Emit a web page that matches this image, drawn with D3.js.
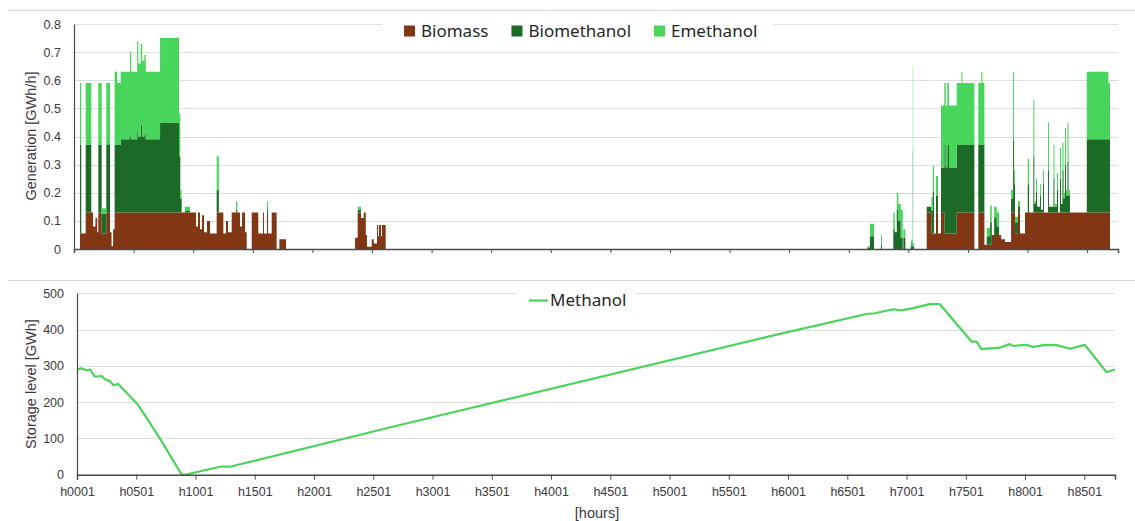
<!DOCTYPE html>
<html>
<head>
<meta charset="utf-8">
<script src="https://cdn.jsdelivr.net/npm/d3@7"></script>
<style>
  body { margin: 0; background: #fff; }
  svg { display: block; font-family: "Liberation Sans", Arial, sans-serif; }
</style>
</head>
<body>
<svg id="chart" width="1135" height="521"></svg>
<script>
// Hourly generation, piecewise constant: each value holds from its start hour to the next start [GWh/h]
const segStart = [
  0, 50, 61, 98, 145, 160, 180, 195, 204, 232, 271, 302, 315, 328, 341, 363, 392, 470, 480, 530,
  540, 560, 572, 590, 602, 722, 881, 892, 903, 931, 973, 1024, 1040, 1057, 1074, 1091, 1116, 1141, 1197, 1215,
  1253, 1275, 1292, 1323, 1359, 1370, 1393, 1410, 1435, 1449, 1491, 1546, 1586, 1594, 1619, 1628, 1659, 1700, 1723, 1779,
  2358, 2380, 2408, 2431, 2448, 2458, 2498, 2515, 2542, 2551, 2559, 2576, 2584, 2615,
  6656, 6678, 6712, 6771, 6779, 6874, 6886, 6903, 6916, 6936, 6953, 6958, 6975, 7020, 7037, 7040, 7048,
  7154, 7193, 7205, 7215, 7232, 7249, 7274, 7302, 7314, 7327, 7341, 7406, 7445, 7453, 7554, 7587, 7612, 7621, 7638,
  7658, 7686, 7700, 7720, 7742, 7761, 7778, 7811, 7862, 7879, 7887, 7895, 7920, 7937, 7979, 8002, 8013, 8049, 8057, 8071,
  8080, 8105, 8113, 8130, 8138, 8172, 8180, 8218, 8226, 8247, 8256, 8272, 8281, 8293, 8302, 8314, 8323, 8335, 8344, 8356,
  8497, 8678, 8692
];
const biomass = [
  0, .055, .055, .13, .13, .08, .11, .06, .13, .055, .13, .06, .01, .07, .13, .13, .13, .13, .13, .13,
  .13, .13, .13, .13, .13, .13, .13, .13, .13, .13, .13, .08, .13, .07, .12, .06, .1, .055, .13, .13,
  .055, .1, .06, .13, .13, .13, .08, .13, .06, 0, .13, .055, .13, .055, .13, .055, .13, 0, .035, 0,
  .04, .13, .11, .13, .05, .008, .035, .02, .085, .045, .085, .045, .085, 0,
  0, 0, 0, 0, 0, 0, 0, 0, 0, 0, 0, 0, 0, 0, 0, 0, 0,
  .13, .055, .055, .055, .13, .055, .13, .055, .055, .055, .055, .13, .13, .13, 0, .13, .13, .13, .015,
  .015, .015, .05, .05, .05, .05, .035, .025, .13, .13, .13, .055, .13, .055, .13, .13, .13, .13, .13, .13,
  .13, .13, .13, .13, .13, .13, .13, .13, .13, .13, .13, .13, .13, .13, .13, .13, .13, .13, .13, .13,
  .13, .13, 0
];
const biomethanol = [
  0, .315, 0, .24, 0, 0, 0, 0, .24, .07, .24, 0, 0, 0, .24, .24, .26, .27, .26, .29,
  .27, .31, .27, .28, .26, .32, .2, .05, 0, .005, 0, 0, 0, 0, 0, 0, 0, 0, .08, 0,
  0, 0, 0, 0, .01, 0, 0, 0, 0, 0, 0, 0, 0, 0, .01, 0, 0, 0, 0, 0,
  0, .01, 0, 0, 0, 0, 0, 0, 0, 0, 0, 0, 0, 0,
  .005, .045, 0, .015, 0, .07, .06, .14, .1, .04, 0, .04, 0, .01, .35, .01, 0,
  .02, .08, .15, 0, .06, 0, .16, .315, .235, .315, .235, .24, .24, .24, 0, .24, .24, .24, 0,
  .03, .08, 0, .06, .03, 0, 0, 0, .05, .26, .1, .04, .02, 0, 0, .1, 0, .2, .03, .07,
  .02, .06, .01, .1, 0, .15, .02, .12, .02, .08, 0, .12, .03, .15, .05, .17, .06, .18, .06, 0,
  .26, .26, 0
];
const emethanol = [
  0, .22, 0, .22, 0, 0, 0, 0, .22, .02, .22, 0, 0, 0, .26, .22, .24, .3, .24, .32,
  .26, .29, .27, .28, .24, .3, .15, .03, 0, .015, 0, 0, 0, 0, 0, 0, 0, 0, .12, 0,
  0, 0, 0, 0, .03, 0, 0, 0, 0, 0, 0, 0, 0, 0, .03, 0, 0, 0, 0, 0,
  0, .01, 0, 0, 0, 0, 0, 0, 0, 0, 0, 0, 0, 0,
  .005, .045, 0, .035, 0, .06, 0, .06, .06, .1, 0, .03, 0, .02, .3, .01, 0,
  0, .05, .09, 0, .07, 0, .22, .22, .22, .22, .22, .22, .26, .22, 0, .22, .26, .22, 0,
  .03, .06, 0, .04, .05, 0, 0, 0, .03, .24, .05, .02, .02, 0, 0, .09, 0, .2, .01, .05,
  0, .04, 0, .05, 0, .17, 0, .12, .01, .06, 0, .11, 0, .1, .02, .13, .02, .14, .02, 0,
  .24, .2, 0
];
const lastHour = 8760;

const seriesNames = ["Biomass", "Biomethanol", "Emethanol"];
const seriesColors = ["#813713", "#1b6b27", "#47d55b"];

// Methanol storage level [GWh]
const storageHour = [
  1, 37, 65, 87, 110, 152, 208, 236, 278, 307, 349, 518, 700, 883, 911, 1207, 1291, 2725, 5932,
  6663, 6733, 6888, 6959, 7057, 7197, 7282, 7549, 7591, 7633, 7788, 7873, 7901, 8014, 8070,
  8154, 8267, 8379, 8505, 8688, 8760
];
const storageLevel = [
  290, 293, 290, 288, 290, 270, 272, 263, 258, 247, 250, 192, 100, 1, 0, 22, 22, 137, 388,
  443, 445, 456, 453, 459, 470, 470, 367, 367, 346, 350, 360, 355, 358, 352,
  357, 357, 347, 358, 283, 290
];
const storageName = "Methanol";
const storageColor = "#4cd35d";

const xTickLabels = ["h0001", "h0501", "h1001", "h1501", "h2001", "h2501", "h3001", "h3501", "h4001",
  "h4501", "h5001", "h5501", "h6001", "h6501", "h7001", "h7501", "h8001", "h8501"];
const genTicks = [0, 0.1, 0.2, 0.3, 0.4, 0.5, 0.6, 0.7, 0.8];
const storageTicks = [0, 100, 200, 300, 400, 500];

const svg = d3.select("#chart");
const gridColor = "#dedede";
const axisColor = "#4a4a4a";
const textColor = "#3a3a3a";
const legendFont = "'Noto Sans', 'Open Sans', sans-serif";
const xTickHours = xTickLabels.map(s => +s.slice(1));

// panel borders
svg.append("line").attr("x1", 8).attr("x2", 1135).attr("y1", 10.5).attr("y2", 10.5)
  .attr("stroke", "#d4d4d4");
svg.append("line").attr("x1", 8).attr("x2", 1135).attr("y1", 280.5).attr("y2", 280.5)
  .attr("stroke", "#d4d4d4");

/* ---------- Generation panel ---------- */
const xTop = d3.scaleLinear().domain([0, lastHour - 1]).range([74, 1118]);
const yTop = d3.scaleLinear().domain([0, 0.8]).range([249, 24]);

const genPanel = svg.append("g");
genPanel.append("g").selectAll("line").data(genTicks.slice(1)).join("line")
  .attr("x1", xTop.range()[0]).attr("x2", xTop.range()[1])
  .attr("y1", d => Math.round(yTop(d)) + 0.5).attr("y2", d => Math.round(yTop(d)) + 0.5)
  .attr("stroke", gridColor).attr("stroke-width", 1.2);

const rows = segStart.map((h, i) => ({
  hour: h, Biomass: biomass[i], Biomethanol: biomethanol[i], Emethanol: emethanol[i]
}));
rows.push({ hour: lastHour - 1, Biomass: 0, Biomethanol: 0, Emethanol: 0 });
const stacked = d3.stack().keys(seriesNames)(rows);
const area = d3.area()
  .curve(d3.curveStepAfter)
  .x(d => xTop(d.data.hour))
  .y0(d => yTop(d[0]))
  .y1(d => yTop(d[1]));
genPanel.append("g").selectAll("path").data(stacked).join("path")
  .attr("d", area)
  .attr("fill", (d, i) => seriesColors[i]);

const yAxisTop = d3.axisLeft(yTop).tickValues(genTicks).tickSize(0).tickPadding(13)
  .tickFormat(d => d === 0 ? "0" : d3.format(".1f")(d));
const gyTop = genPanel.append("g").attr("transform", "translate(74,0)").call(yAxisTop);
gyTop.select(".domain").attr("stroke", axisColor).attr("stroke-width", 1.2);
gyTop.selectAll("text").attr("fill", textColor).style("font-size", "12.5px")
  .style("font-family", "'Liberation Sans', Arial, sans-serif");

const xAxisTop = d3.axisBottom(xTop).tickValues(xTickHours.map(h => h - 1)).tickSize(4).tickFormat("");
const gxTop = genPanel.append("g").attr("transform", "translate(0,249)").call(xAxisTop);
gxTop.select(".domain").attr("stroke", axisColor).attr("stroke-width", 1.5);
gxTop.selectAll(".tick line").attr("stroke", axisColor);

genPanel.append("text")
  .attr("transform", "translate(36,136) rotate(-90)")
  .attr("text-anchor", "middle")
  .attr("fill", textColor)
  .style("font-size", "14.5px")
  .text("Generation [GWh/h]");

// legend
const legTop = genPanel.append("g");
const legBg = legTop.append("rect").attr("fill", "#fff");
let lx = 404;
let legEnd = lx;
seriesNames.forEach((name, i) => {
  const g = legTop.append("g");
  g.append("rect").attr("x", lx).attr("y", 25.5).attr("width", 11).attr("height", 11)
    .attr("fill", seriesColors[i]);
  const t = g.append("text").attr("x", lx + 17).attr("y", 31).attr("dy", "0.35em")
    .attr("fill", "#262626").style("font-family", legendFont).style("font-size", "17px").text(name);
  const w = t.node().getComputedTextLength();
  legEnd = lx + 17 + w;
  lx = legEnd + 23;
});
legBg.attr("x", 382).attr("y", 14).attr("width", legEnd + 16 - 382).attr("height", 32);

/* ---------- Storage panel ---------- */
const xBot = d3.scaleLinear().domain([1, lastHour]).range([77, 1115]);
const yBot = d3.scaleLinear().domain([0, 500]).range([474.7, 293.3]);

const storePanel = svg.append("g");
storePanel.append("g").selectAll("line").data(storageTicks.slice(1)).join("line")
  .attr("x1", xBot.range()[0]).attr("x2", xBot.range()[1])
  .attr("y1", d => Math.round(yBot(d)) + 0.5).attr("y2", d => Math.round(yBot(d)) + 0.5)
  .attr("stroke", gridColor).attr("stroke-width", 1.2);

const line = d3.line().x((d, i) => xBot(storageHour[i])).y(d => yBot(d));
storePanel.append("path").datum(storageLevel)
  .attr("d", line)
  .attr("fill", "none")
  .attr("stroke", storageColor)
  .attr("stroke-width", 2.2)
  .attr("stroke-linejoin", "round");

const yAxisBot = d3.axisLeft(yBot).tickValues(storageTicks).tickSize(0).tickPadding(13);
const gyBot = storePanel.append("g").attr("transform", "translate(77,0)").call(yAxisBot);
gyBot.select(".domain").attr("stroke", axisColor).attr("stroke-width", 1.2);
gyBot.selectAll("text").attr("fill", textColor).style("font-size", "12.5px")
  .style("font-family", "'Liberation Sans', Arial, sans-serif");

const xAxisBot = d3.axisBottom(xBot).tickValues(xTickHours).tickSize(5).tickPadding(7)
  .tickFormat((d, i) => xTickLabels[i]);
const gxBot = storePanel.append("g").attr("transform", "translate(0,474.7)").call(xAxisBot);
gxBot.select(".domain").attr("stroke", axisColor).attr("stroke-width", 1.5);
gxBot.selectAll(".tick line").attr("stroke", axisColor);
gxBot.selectAll("text").attr("fill", textColor).style("font-size", "12.5px")
  .style("font-family", "'Liberation Sans', Arial, sans-serif");

storePanel.append("text")
  .attr("transform", "translate(36,384) rotate(-90)")
  .attr("text-anchor", "middle")
  .attr("fill", textColor)
  .style("font-size", "14.5px")
  .text("Storage level [GWh]");

storePanel.append("text")
  .attr("x", 597).attr("y", 518)
  .attr("text-anchor", "middle")
  .attr("fill", textColor)
  .style("font-size", "14.5px")
  .text("[hours]");

// legend
const legBot = storePanel.append("g");
const legBotBg = legBot.append("rect").attr("fill", "#fff");
legBot.append("line").attr("x1", 529).attr("x2", 548).attr("y1", 300.5).attr("y2", 300.5)
  .attr("stroke", storageColor).attr("stroke-width", 2.2);
const mt = legBot.append("text").attr("x", 550).attr("y", 300.5).attr("dy", "0.35em")
  .attr("fill", "#262626").style("font-family", legendFont).style("font-size", "17px").text(storageName);
const mw = mt.node().getComputedTextLength();
legBotBg.attr("x", 517).attr("y", 288).attr("width", 550 + mw + 9 - 517).attr("height", 26);
</script>
</body>
</html>
